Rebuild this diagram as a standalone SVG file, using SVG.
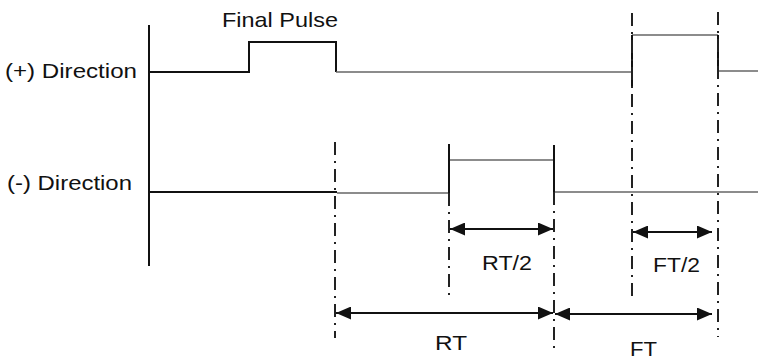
<svg xmlns="http://www.w3.org/2000/svg" width="758" height="361" viewBox="0 0 758 361">
<defs>
<style>
.txt{font-family:"Liberation Sans",Arial,sans-serif;font-size:21px;fill:#111}
.blk{stroke:#111;stroke-width:2;fill:none}
.gry{stroke:#666;stroke-width:1.5;fill:none}
.dd{stroke:#222;stroke-width:2;fill:none;stroke-dasharray:13 6 2 6}
.arr{stroke:#111;stroke-width:2;fill:none;marker-start:url(#ah);marker-end:url(#ah)}
</style>
<marker id="ah" markerUnits="userSpaceOnUse" viewBox="0 0 15 13" refX="15" refY="6.5" markerWidth="15" markerHeight="13" orient="auto-start-reverse">
<path d="M0,0 L15,6.5 L0,13 Z" fill="#111"/>
</marker>
</defs>
<rect width="758" height="361" fill="#fff"/>
<g id="axis">
<line class="blk" x1="149" y1="25" x2="149" y2="266"/>
</g>
<g id="labels">
<text class="txt" x="5" y="78" textLength="132" lengthAdjust="spacingAndGlyphs">(+) Direction</text>
<text class="txt" x="7" y="190" textLength="125" lengthAdjust="spacingAndGlyphs">(-) Direction</text>
<text class="txt" x="222" y="27" textLength="116" lengthAdjust="spacingAndGlyphs">Final Pulse</text>
<text class="txt" x="482" y="270" textLength="50" lengthAdjust="spacingAndGlyphs">RT/2</text>
<text class="txt" x="653" y="272" textLength="47" lengthAdjust="spacingAndGlyphs">FT/2</text>
<text class="txt" x="435" y="350" textLength="32" lengthAdjust="spacingAndGlyphs">RT</text>
<text class="txt" x="630" y="356" textLength="27" lengthAdjust="spacingAndGlyphs">FT</text>
</g>
<g id="plus-signal">
<polyline class="blk" points="149,72 249,72 249,42 336,42 336,72"/>
<polyline class="gry" points="336,72 632,72"/>
<polyline class="gry" points="632,35 718,35"/>
<polyline class="gry" points="718,71 758,71"/>
<line class="blk" x1="632" y1="35" x2="632" y2="88"/>
<line class="blk" x1="718" y1="35" x2="718" y2="72"/>
</g>
<g id="minus-signal">
<polyline class="blk" points="149,192 337,192"/>
<polyline class="gry" points="337,193 449,193"/>
<polyline class="gry" points="449,160 554,160"/>
<polyline class="gry" points="554,192 758,192"/>
<line class="blk" x1="449" y1="144" x2="449" y2="193"/>
<line class="blk" x1="554" y1="145" x2="554" y2="192"/>
</g>
<g id="connectors">
<line class="dd" x1="335" y1="142" x2="335" y2="338"/>
<line class="dd" x1="449" y1="193" x2="449" y2="297"/>
<line class="dd" x1="554" y1="192" x2="554" y2="350"/>
<line class="dd" x1="632" y1="13" x2="632" y2="298"/>
<line class="dd" x1="718" y1="12" x2="718" y2="337"/>
<line class="arr" x1="450" y1="229" x2="553" y2="229"/>
<line class="arr" x1="633" y1="232" x2="712" y2="232"/>
<line class="arr" x1="336" y1="313" x2="553" y2="313"/>
<line class="arr" x1="555" y1="314" x2="712" y2="314"/>
</g>
</svg>
